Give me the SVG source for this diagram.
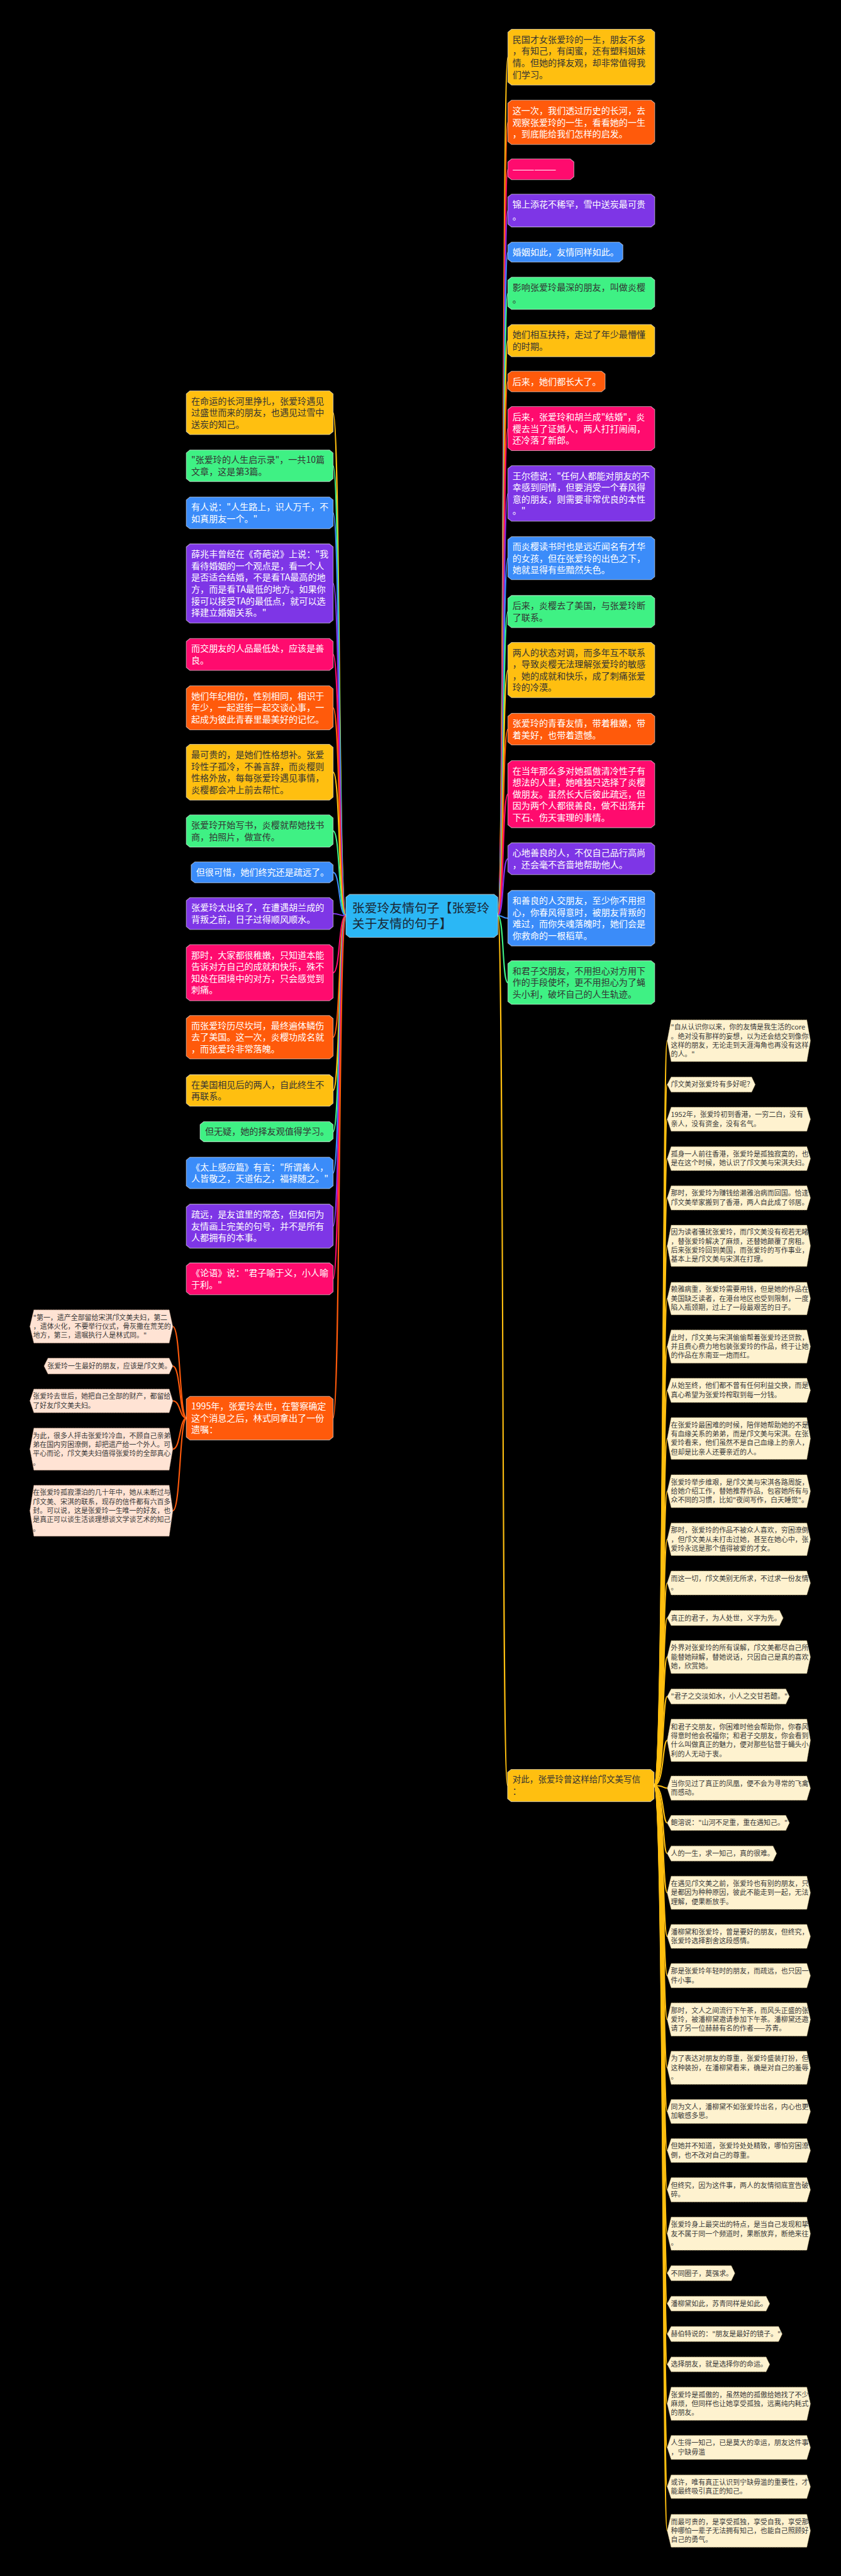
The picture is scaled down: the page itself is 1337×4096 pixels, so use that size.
<svg xmlns="http://www.w3.org/2000/svg" width="1337" height="4096" viewBox="0 0 1337 4096">
<style>
.a{font-family:"Noto Sans CJK SC","Noto Sans",sans-serif;font-size:27px}
.w{fill:#ffffff}
.k{fill:#333333}
.c{font-family:"Noto Sans CJK SC","Noto Sans",sans-serif;font-size:21px;fill:#3a3a3a}
.cn{fill:#fef2cf;stroke:#b9a678;stroke-width:1.5;stroke-dasharray:3 2}
.pn{fill:#ffe3d4;stroke:#c29c86;stroke-width:1.5;stroke-dasharray:3 2}
.ol{stroke:rgba(255,255,255,0.55);stroke-width:2}
.cy{fill:#ffbf10}.co{fill:#ff5a0b}.cp{fill:#ff0b6e}.cu{fill:#7e36e6}.cb{fill:#3b8cf9}.cg{fill:#3ff184}
.e{fill:none;stroke-width:4}
.ey{stroke:#ffbf10}.eo{stroke:#ff5a0b}.ep{stroke:#ff0b6e}.eu{stroke:#7e36e6}.eb{stroke:#3b8cf9}.eg{stroke:#3ff184}
</style>
<rect width="1337" height="4096" fill="#000"/>
<g transform="scale(0.5222656)">
<g id="connectors">
<path class="e ey" d="M1515 2788C1535 2788 1528 174 1546 174"/>
<path class="e eo" d="M1515 2788C1535 2788 1528 372.5 1546 372.5"/>
<path class="e ep" d="M1515 2788C1535 2788 1528 515.5 1546 515.5"/>
<path class="e eu" d="M1515 2788C1535 2788 1528 641 1546 641"/>
<path class="e eb" d="M1515 2788C1535 2788 1528 767.5 1546 767.5"/>
<path class="e eg" d="M1515 2788C1535 2788 1528 893 1546 893"/>
<path class="e ey" d="M1515 2788C1535 2788 1528 1037 1546 1037"/>
<path class="e eo" d="M1515 2788C1535 2788 1528 1161.5 1546 1161.5"/>
<path class="e ep" d="M1515 2788C1535 2788 1528 1305 1546 1305"/>
<path class="e eu" d="M1515 2788C1535 2788 1528 1502.5 1546 1502.5"/>
<path class="e eb" d="M1515 2788C1535 2788 1528 1699.5 1546 1699.5"/>
<path class="e eg" d="M1515 2788C1535 2788 1528 1862 1546 1862"/>
<path class="e ey" d="M1515 2788C1535 2788 1528 2040 1546 2040"/>
<path class="e eo" d="M1515 2788C1535 2788 1528 2220 1546 2220"/>
<path class="e ep" d="M1515 2788C1535 2788 1528 2418 1546 2418"/>
<path class="e eu" d="M1515 2788C1535 2788 1528 2614.5 1546 2614.5"/>
<path class="e eb" d="M1515 2788C1535 2788 1528 2795.5 1546 2795.5"/>
<path class="e eg" d="M1515 2788C1535 2788 1528 2991.5 1546 2991.5"/>
<path class="e ey" d="M1515 2788C1535 2788 1526 5436 1545 5436"/>
<path class="e ey" d="M1053 2788C1030 2788 1036 1256.5 1014 1256.5"/>
<path class="e eg" d="M1053 2788C1030 2788 1036 1418 1014 1418"/>
<path class="e eb" d="M1053 2788C1030 2788 1036 1561.5 1014 1561.5"/>
<path class="e eu" d="M1053 2788C1030 2788 1036 1776.5 1014 1776.5"/>
<path class="e ep" d="M1053 2788C1030 2788 1036 1992.5 1014 1992.5"/>
<path class="e eo" d="M1053 2788C1030 2788 1036 2155 1014 2155"/>
<path class="e ey" d="M1053 2788C1030 2788 1036 2351 1014 2351"/>
<path class="e eg" d="M1053 2788C1030 2788 1036 2530 1014 2530"/>
<path class="e eb" d="M1053 2788C1030 2788 1036 2656 1014 2656"/>
<path class="e eu" d="M1053 2788C1030 2788 1036 2781.5 1014 2781.5"/>
<path class="e ep" d="M1053 2788C1030 2788 1036 2961.5 1014 2961.5"/>
<path class="e eo" d="M1053 2788C1030 2788 1036 3158 1014 3158"/>
<path class="e ey" d="M1053 2788C1030 2788 1036 3320 1014 3320"/>
<path class="e eg" d="M1053 2788C1030 2788 1036 3445.5 1014 3445.5"/>
<path class="e eb" d="M1053 2788C1030 2788 1036 3571 1014 3571"/>
<path class="e eu" d="M1053 2788C1030 2788 1036 3733 1014 3733"/>
<path class="e ep" d="M1053 2788C1030 2788 1036 3893.5 1014 3893.5"/>
<path class="e eo" d="M1053 2788C1030 2788 1036 4317.5 1014 4317.5"/>
<path class="e eo" d="M568 4317.5C546 4317.5 550 4038.5 526 4038.5"/>
<path class="e eo" d="M568 4317.5C546 4317.5 550 4159 526 4159"/>
<path class="e eo" d="M568 4317.5C546 4317.5 550 4265 526 4265"/>
<path class="e eo" d="M568 4317.5C546 4317.5 550 4412 526 4412"/>
<path class="e eo" d="M568 4317.5C546 4317.5 550 4599.5 526 4599.5"/>
<g class="e ey">
<path d="M1991 5436C2022 5436 2016 3168.5 2031 3168.5"/>
<path d="M1991 5436C2022 5436 2016 3302 2031 3302"/>
<path d="M1991 5436C2022 5436 2016 3407.5 2031 3407.5"/>
<path d="M1991 5436C2022 5436 2016 3527.5 2031 3527.5"/>
<path d="M1991 5436C2022 5436 2016 3647 2031 3647"/>
<path d="M1991 5436C2022 5436 2016 3793 2031 3793"/>
<path d="M1991 5436C2022 5436 2016 3953.5 2031 3953.5"/>
<path d="M1991 5436C2022 5436 2016 4099.5 2031 4099.5"/>
<path d="M1991 5436C2022 5436 2016 4233 2031 4233"/>
<path d="M1991 5436C2022 5436 2016 4379.5 2031 4379.5"/>
<path d="M1991 5436C2022 5436 2016 4540 2031 4540"/>
<path d="M1991 5436C2022 5436 2016 4686.5 2031 4686.5"/>
<path d="M1991 5436C2022 5436 2016 4819.5 2031 4819.5"/>
<path d="M1991 5436C2022 5436 2016 4926 2031 4926"/>
<path d="M1991 5436C2022 5436 2016 5045 2031 5045"/>
<path d="M1991 5436C2022 5436 2016 5165 2031 5165"/>
<path d="M1991 5436C2022 5436 2016 5298.5 2031 5298.5"/>
<path d="M1991 5436C2022 5436 2016 5444 2031 5444"/>
<path d="M1991 5436C2022 5436 2016 5550 2031 5550"/>
<path d="M1991 5436C2022 5436 2016 5643 2031 5643"/>
<path d="M1991 5436C2022 5436 2016 5762.5 2031 5762.5"/>
<path d="M1991 5436C2022 5436 2016 5895.5 2031 5895.5"/>
<path d="M1991 5436C2022 5436 2016 6015 2031 6015"/>
<path d="M1991 5436C2022 5436 2016 6148.5 2031 6148.5"/>
<path d="M1991 5436C2022 5436 2016 6295.5 2031 6295.5"/>
<path d="M1991 5436C2022 5436 2016 6428.5 2031 6428.5"/>
<path d="M1991 5436C2022 5436 2016 6547.5 2031 6547.5"/>
<path d="M1991 5436C2022 5436 2016 6667 2031 6667"/>
<path d="M1991 5436C2022 5436 2016 6800.5 2031 6800.5"/>
<path d="M1991 5436C2022 5436 2016 6921 2031 6921"/>
<path d="M1991 5436C2022 5436 2016 7013.5 2031 7013.5"/>
<path d="M1991 5436C2022 5436 2016 7106 2031 7106"/>
<path d="M1991 5436C2022 5436 2016 7198.5 2031 7198.5"/>
<path d="M1991 5436C2022 5436 2016 7318.5 2031 7318.5"/>
<path d="M1991 5436C2022 5436 2016 7451.5 2031 7451.5"/>
<path d="M1991 5436C2022 5436 2016 7571 2031 7571"/>
<path d="M1991 5436C2022 5436 2016 7705 2031 7705"/>
</g>
</g>

<g id="root">
<path fill="#2bb7f5" class="ol" d="M1064 2723h440l11 9v113l-11 9h-440l-11-9v-113z"/>
<text class="a" style="font-size:38px" fill="#1a2533" x="1072" y="2779"><tspan x="1072">张爱玲友情句子【张爱玲</tspan><tspan x="1072" dy="47">关于友情的句子】</tspan></text>
</g>

<g id="r1"><path class="cy ol" d="M1557 89h425l11 9v152l-11 9h-425l-11-9v-152z"/><text class="a k" y="130"><tspan x="1560">民国才女张爱玲的一生，朋友不多</tspan><tspan x="1560" dy="35.5">，有知己，有闺蜜，还有塑料姐妹</tspan><tspan x="1560" dy="35.5">情。但她的择友观，却非常值得我</tspan><tspan x="1560" dy="35.5">们学习。</tspan></text></g>
<g id="r2"><path class="co ol" d="M1557 305h425l11 9v117l-11 9h-425l-11-9v-117z"/><text class="a w" y="346.5"><tspan x="1560">这一次，我们透过历史的长河，去</tspan><tspan x="1560" dy="35.5">观察张爱玲的一生，看看她的一生</tspan><tspan x="1560" dy="35.5">，到底能给我们怎样的启发。</tspan></text></g>
<g id="r3"><path class="cp ol" d="M1557 484h179l11 9v45l-11 9h-179l-11-9v-45z"/><text class="a w" x="1560" y="525">——————</text></g>
<g id="r4"><path class="cu ol" d="M1557 591h425l11 9v82l-11 9h-425l-11-9v-82z"/><text class="a w" y="632.75"><tspan x="1560">锦上添花不稀罕，雪中送炭最可贵</tspan><tspan x="1560" dy="35.5">。</tspan></text></g>
<g id="r5"><path class="cb ol" d="M1557 737h328l11 9v43l-11 9h-328l-11-9v-43z"/><text class="a w" x="1560" y="777">婚姻如此，友情同样如此。</text></g>
<g id="r6"><path class="cg ol" d="M1557 844h425l11 9v80l-11 9h-425l-11-9v-80z"/><text class="a k" y="884.75"><tspan x="1560">影响张爱玲最深的朋友，叫做炎樱</tspan><tspan x="1560" dy="35.5">。</tspan></text></g>
<g id="r7"><path class="cy ol" d="M1557 988h425l11 9v80l-11 9h-425l-11-9v-80z"/><text class="a k" y="1028.75"><tspan x="1560">她们相互扶持，走过了年少最懵懂</tspan><tspan x="1560" dy="35.5">的时期。</tspan></text></g>
<g id="r8"><path class="co ol" d="M1557 1130h274l11 9v45l-11 9h-274l-11-9v-45z"/><text class="a w" x="1560" y="1171">后来，她们都长大了。</text></g>
<g id="r9"><path class="cp ol" d="M1557 1238h425l11 9v116l-11 9h-425l-11-9v-116z"/><text class="a w" y="1279"><tspan x="1560">后来，张爱玲和胡兰成"结婚"，炎</tspan><tspan x="1560" dy="35.5">樱去当了证婚人，两人打打闹闹，</tspan><tspan x="1560" dy="35.5">还冷落了新郎。</tspan></text></g>
<g id="r10"><path class="cu ol" d="M1557 1418h425l11 9v151l-11 9h-425l-11-9v-151z"/><text class="a w" y="1458.75"><tspan x="1560">王尔德说："任何人都能对朋友的不</tspan><tspan x="1560" dy="35.5">幸感到同情，但要消受一个春风得</tspan><tspan x="1560" dy="35.5">意的朋友，则需要非常优良的本性</tspan><tspan x="1560" dy="35.5">。"</tspan></text></g>
<g id="r11"><path class="cb ol" d="M1557 1634h425l11 9v113l-11 9h-425l-11-9v-113z"/><text class="a w" y="1673.5"><tspan x="1560">而炎樱读书时也是远近闻名有才华</tspan><tspan x="1560" dy="35.5">的女孩，但在张爱玲的出色之下，</tspan><tspan x="1560" dy="35.5">她就显得有些黯然失色。</tspan></text></g>
<g id="r12"><path class="cg ol" d="M1557 1813h425l11 9v80l-11 9h-425l-11-9v-80z"/><text class="a k" y="1853.75"><tspan x="1560">后来，炎樱去了美国，与张爱玲断</tspan><tspan x="1560" dy="35.5">了联系。</tspan></text></g>
<g id="r13"><path class="cy ol" d="M1557 1956h425l11 9v150l-11 9h-425l-11-9v-150z"/><text class="a k" y="1996.25"><tspan x="1560">两人的状态对调，而多年互不联系</tspan><tspan x="1560" dy="35.5">，导致炎樱无法理解张爱玲的敏感</tspan><tspan x="1560" dy="35.5">，她的成就和快乐，成了刺痛张爱</tspan><tspan x="1560" dy="35.5">玲的冷漠。</tspan></text></g>
<g id="r14"><path class="co ol" d="M1557 2172h425l11 9v78l-11 9h-425l-11-9v-78z"/><text class="a w" y="2211.75"><tspan x="1560">张爱玲的青春友情，带着稚嫩，带</tspan><tspan x="1560" dy="35.5">着美好，也带着遗憾。</tspan></text></g>
<g id="r15"><path class="cp ol" d="M1557 2316h425l11 9v186l-11 9h-425l-11-9v-186z"/><text class="a w" y="2356.5"><tspan x="1560">在当年那么多对她孤傲清冷性子有</tspan><tspan x="1560" dy="35.5">想法的人里，她唯独只选择了炎樱</tspan><tspan x="1560" dy="35.5">做朋友。虽然长大后彼此疏远，但</tspan><tspan x="1560" dy="35.5">因为两个人都很善良，做不出落井</tspan><tspan x="1560" dy="35.5">下石、伤天害理的事情。</tspan></text></g>
<g id="r16"><path class="cu ol" d="M1557 2566h425l11 9v79l-11 9h-425l-11-9v-79z"/><text class="a w" y="2606.25"><tspan x="1560">心地善良的人，不仅自己品行高尚</tspan><tspan x="1560" dy="35.5">，还会毫不吝啬地帮助他人。</tspan></text></g>
<g id="r17"><path class="cb ol" d="M1557 2711h425l11 9v151l-11 9h-425l-11-9v-151z"/><text class="a w" y="2751.75"><tspan x="1560">和善良的人交朋友，至少你不用担</tspan><tspan x="1560" dy="35.5">心，你春风得意时，被朋友背叛的</tspan><tspan x="1560" dy="35.5">难过，而你失魂落魄时，她们会是</tspan><tspan x="1560" dy="35.5">你救命的一根稻草。</tspan></text></g>
<g id="r18"><path class="cg ol" d="M1557 2925h425l11 9v115l-11 9h-425l-11-9v-115z"/><text class="a k" y="2965.5"><tspan x="1560">和君子交朋友，不用担心对方用下</tspan><tspan x="1560" dy="35.5">作的手段使坏，更不用担心为了蝇</tspan><tspan x="1560" dy="35.5">头小利，破坏自己的人生轨迹。</tspan></text></g>

<g id="l1"><path class="cy ol" d="M578 1190h425l11 9v115l-11 9h-425l-11-9v-115z"/><text class="a k" y="1230.5"><tspan x="582">在命运的长河里挣扎，张爱玲遇见</tspan><tspan x="582" dy="35.5">过盛世而来的朋友，也遇见过雪中</tspan><tspan x="582" dy="35.5">送炭的知己。</tspan></text></g>
<g id="l2"><path class="cg ol" d="M578 1370h425l11 9v78l-11 9h-425l-11-9v-78z"/><text class="a k" y="1409.75"><tspan x="582">"张爱玲的人生启示录"，一共10篇</tspan><tspan x="582" dy="35.5">文章，这是第3篇。</tspan></text></g>
<g id="l3"><path class="cb ol" d="M578 1513h425l11 9v79l-11 9h-425l-11-9v-79z"/><text class="a w" y="1553.25"><tspan x="582">有人说："人生路上，识人万千，不</tspan><tspan x="582" dy="35.5">如真朋友一个。"</tspan></text></g>
<g id="l4"><path class="cu ol" d="M578 1656h425l11 9v223l-11 9h-425l-11-9v-223z"/><text class="a w" y="1697.25"><tspan x="582">薛兆丰曾经在《奇葩说》上说："我</tspan><tspan x="582" dy="35.5">看待婚姻的一个观点是，看一个人</tspan><tspan x="582" dy="35.5">是否适合结婚，不是看TA最高的地</tspan><tspan x="582" dy="35.5">方，而是看TA最低的地方。如果你</tspan><tspan x="582" dy="35.5">接可以接受TA的最低点，就可以选</tspan><tspan x="582" dy="35.5">择建立婚姻关系。"</tspan></text></g>
<g id="l5"><path class="cp ol" d="M578 1944h425l11 9v79l-11 9h-425l-11-9v-79z"/><text class="a w" y="1984.25"><tspan x="582">而交朋友的人品最低处，应该是善</tspan><tspan x="582" dy="35.5">良。</tspan></text></g>
<g id="l6"><path class="co ol" d="M578 2088h425l11 9v116l-11 9h-425l-11-9v-116z"/><text class="a w" y="2129"><tspan x="582">她们年纪相仿，性别相同，相识于</tspan><tspan x="582" dy="35.5">年少，一起逛街一起交谈心事，一</tspan><tspan x="582" dy="35.5">起成为彼此青春里最美好的记忆。</tspan></text></g>
<g id="l7"><path class="cy ol" d="M578 2266h425l11 9v152l-11 9h-425l-11-9v-152z"/><text class="a k" y="2307.25"><tspan x="582">最可贵的，是她们性格想补。张爱</tspan><tspan x="582" dy="35.5">玲性子孤冷，不善言辞，而炎樱则</tspan><tspan x="582" dy="35.5">性格外放，每每张爱玲遇见事情，</tspan><tspan x="582" dy="35.5">炎樱都会冲上前去帮忙。</tspan></text></g>
<g id="l8"><path class="cg ol" d="M578 2481h425l11 9v80l-11 9h-425l-11-9v-80z"/><text class="a k" y="2521.75"><tspan x="582">张爱玲开始写书，炎樱就帮她找书</tspan><tspan x="582" dy="35.5">商，拍照片，做宣传。</tspan></text></g>
<g id="l9"><path class="cb ol" d="M593 2624h410l11 9v46l-11 9h-410l-11-9v-46z"/><text class="a w" x="597" y="2665.5">但很可惜，她们终究还是疏远了。</text></g>
<g id="l10"><path class="cu ol" d="M578 2733h425l11 9v79l-11 9h-425l-11-9v-79z"/><text class="a w" y="2773.25"><tspan x="582">张爱玲太出名了，在遭遇胡兰成的</tspan><tspan x="582" dy="35.5">背叛之前，日子过得顺风顺水。</tspan></text></g>
<g id="l11"><path class="cp ol" d="M578 2876h425l11 9v153l-11 9h-425l-11-9v-153z"/><text class="a w" y="2917.75"><tspan x="582">那时，大家都很稚嫩，只知道本能</tspan><tspan x="582" dy="35.5">告诉对方自己的成就和快乐，殊不</tspan><tspan x="582" dy="35.5">知处在困境中的对方，只会感觉到</tspan><tspan x="582" dy="35.5">刺痛。</tspan></text></g>
<g id="l12"><path class="co ol" d="M578 3092h425l11 9v114l-11 9h-425l-11-9v-114z"/><text class="a w" y="3132"><tspan x="582">而张爱玲历尽坎坷，最终遍体鳞伤</tspan><tspan x="582" dy="35.5">去了美国。这一次，炎樱功成名就</tspan><tspan x="582" dy="35.5">，而张爱玲非常落魄。</tspan></text></g>
<g id="l13"><path class="cy ol" d="M578 3272h425l11 9v78l-11 9h-425l-11-9v-78z"/><text class="a k" y="3311.75"><tspan x="582">在美国相见后的两人，自此终生不</tspan><tspan x="582" dy="35.5">再联系。</tspan></text></g>
<g id="l14"><path class="cg ol" d="M620 3415h383l11 9v43l-11 9h-383l-11-9v-43z"/><text class="a k" x="624" y="3455">但无疑，她的择友观值得学习。</text></g>
<g id="l15"><path class="cb ol" d="M578 3523h425l11 9v78l-11 9h-425l-11-9v-78z"/><text class="a w" y="3562.75"><tspan x="582">《太上感应篇》有言："所谓善人，</tspan><tspan x="582" dy="35.5">人皆敬之，天道佑之，福禄随之。"</tspan></text></g>
<g id="l16"><path class="cu ol" d="M578 3666h425l11 9v116l-11 9h-425l-11-9v-116z"/><text class="a w" y="3707"><tspan x="582">疏远，是友谊里的常态，但如何为</tspan><tspan x="582" dy="35.5">友情画上完美的句号，并不是所有</tspan><tspan x="582" dy="35.5">人都拥有的本事。</tspan></text></g>
<g id="l17"><path class="cp ol" d="M578 3845h425l11 9v79l-11 9h-425l-11-9v-79z"/><text class="a w" y="3885.25"><tspan x="582">《论语》说："君子喻于义，小人喻</tspan><tspan x="582" dy="35.5">于利。"</tspan></text></g>
<g id="l18"><path class="co ol" d="M578 4251h425l11 9v115l-11 9h-425l-11-9v-115z"/><text class="a w" y="4291.5"><tspan x="582">1995年，张爱玲去世，在警察确定</tspan><tspan x="582" dy="35.5">这个消息之后，林式同拿出了一份</tspan><tspan x="582" dy="35.5">遗嘱：</tspan></text></g>

<g id="p1"><path class="pn" d="M91 4038.5L103 3988H515L526 4038.5L515 4089H103Z"/><text class="c" y="4018.5"><tspan x="101">"第一，遗产全部留给宋淇邝文美夫妇，第二</tspan><tspan x="101" dy="27.5">，遗体火化，不要举行仪式，骨灰撒在荒芜的</tspan><tspan x="101" dy="27.5">地方，第三，遗嘱执行人是林式同。"</tspan></text></g>
<g id="p2"><path class="pn" d="M134 4159L146 4135H515L526 4159L515 4183H146Z"/><text class="c" x="144" y="4166.5">张爱玲一生最好的朋友，应该是邝文美。</text></g>
<g id="p3"><path class="pn" d="M91 4265L103 4229H515L526 4265L515 4301H103Z"/><text class="c" y="4258.75"><tspan x="100">张爱玲去世后，她把自己全部的财产，都留给</tspan><tspan x="100" dy="27.5">了好友邝文美夫妇。</tspan></text></g>
<g id="p4"><path class="pn" d="M91 4412L103 4348H515L526 4412L515 4476H103Z"/><text class="c" y="4378.25"><tspan x="100">为此，很多人抨击张爱玲冷血，不顾自己亲弟</tspan><tspan x="100" dy="27.5">弟在国内穷困潦倒，却把遗产给一个外人。可</tspan><tspan x="100" dy="27.5">平心而论，邝文美夫妇值得张爱玲的全部真心</tspan><tspan x="100" dy="27.5">。</tspan></text></g>
<g id="p5"><path class="pn" d="M91 4599.5L103 4522H515L526 4599.5L515 4677H103Z"/><text class="c" y="4552"><tspan x="100">在张爱玲孤寂漂泊的几十年中，她从未断过与</tspan><tspan x="100" dy="27.5">邝文美、宋淇的联系，现存的信件都有六百多</tspan><tspan x="100" dy="27.5">封。可以说，这是张爱玲一生唯一的好友，也</tspan><tspan x="100" dy="27.5">是真正可以谈生活谈理想谈文学谈艺术的知己</tspan><tspan x="100" dy="27.5">。</tspan></text></g>

<g id="yb"><path class="cy ol" d="M1556 5387h424l11 9v80l-11 9h-424l-11-9v-80z"/><text class="a k" style="font-size:26px" y="5427"><tspan x="1560">对此，张爱玲曾这样给邝文美写信</tspan><tspan x="1560" dy="35">：</tspan></text></g>

<g id="c1"><path class="cn" d="M2031 3168.5L2043 3105H2456L2467 3168.5L2456 3232H2043Z"/><text class="c" y="3134.75"><tspan x="2042">"自从认识你以来，你的友情是我生活的core</tspan><tspan x="2042" dy="27.5">。绝对没有那样的妄想，以为还会结交到像你</tspan><tspan x="2042" dy="27.5">这样的朋友，无论走到天涯海角也再没有这样</tspan><tspan x="2042" dy="27.5">的人。"</tspan></text></g>
<g id="c2"><path class="cn" d="M2031 3302L2043 3279H2288L2299 3302L2288 3325H2043Z"/><text class="c" x="2042" y="3309.5">邝文美对张爱玲有多好呢？</text></g>
<g id="c3"><path class="cn" d="M2031 3407.5L2043 3371H2456L2467 3407.5L2456 3444H2043Z"/><text class="c" y="3401.25"><tspan x="2042">1952年，张爱玲初到香港，一穷二白，没有</tspan><tspan x="2042" dy="27.5">亲人，没有资金，没有名气。</tspan></text></g>
<g id="c4"><path class="cn" d="M2031 3527.5L2043 3491H2456L2467 3527.5L2456 3564H2043Z"/><text class="c" y="3521.25"><tspan x="2042">孤身一人前往香港，张爱玲是孤独寂寞的，也</tspan><tspan x="2042" dy="27.5">是在这个时候，她认识了邝文美与宋淇夫妇。</tspan></text></g>
<g id="c5"><path class="cn" d="M2031 3647L2043 3610H2456L2467 3647L2456 3684H2043Z"/><text class="c" y="3640.75"><tspan x="2042">那时，张爱玲为赚钱给濑雅治病而回国。恰逢</tspan><tspan x="2042" dy="27.5">邝文美举家搬到了香港，两人自此成了邻居。</tspan></text></g>
<g id="c6"><path class="cn" d="M2031 3793L2043 3730H2456L2467 3793L2456 3856H2043Z"/><text class="c" y="3759.25"><tspan x="2042">因为读者骚扰张爱玲，而邝文美没有视若无睹</tspan><tspan x="2042" dy="27.5">，替张爱玲解决了麻烦，还替她颠覆了房租。</tspan><tspan x="2042" dy="27.5">后来张爱玲回到美国，而张爱玲的写作事业，</tspan><tspan x="2042" dy="27.5">基本上是邝文美与宋淇在打理。</tspan></text></g>
<g id="c7"><path class="cn" d="M2031 3953.5L2043 3904H2456L2467 3953.5L2456 4003H2043Z"/><text class="c" y="3933.5"><tspan x="2042">赖雅病重，张爱玲需要用钱，但是她的作品在</tspan><tspan x="2042" dy="27.5">美国缺乏读者，在港台地区也受到限制，一度</tspan><tspan x="2042" dy="27.5">陷入瓶颈期，过上了一段最艰苦的日子。</tspan></text></g>
<g id="c8"><path class="cn" d="M2031 4099.5L2043 4049H2456L2467 4099.5L2456 4150H2043Z"/><text class="c" y="4079.5"><tspan x="2042">此时，邝文美与宋淇偷偷帮着张爱玲还贷款，</tspan><tspan x="2042" dy="27.5">并且费心费力地包装张爱玲的作品，终于让她</tspan><tspan x="2042" dy="27.5">的作品在东南亚一炮而红。</tspan></text></g>
<g id="c9"><path class="cn" d="M2031 4233L2043 4196H2456L2467 4233L2456 4270H2043Z"/><text class="c" y="4226.75"><tspan x="2042">从始至终，他们都不曾有任何利益交换，而是</tspan><tspan x="2042" dy="27.5">真心希望为张爱玲榨取到每一分钱。</tspan></text></g>
<g id="c10"><path class="cn" d="M2031 4379.5L2043 4316H2456L2467 4379.5L2456 4443H2043Z"/><text class="c" y="4345.75"><tspan x="2042">在张爱玲最困难的时候，陪伴她帮助她的不是</tspan><tspan x="2042" dy="27.5">有血缘关系的弟弟，而是邝文美与宋淇。在张</tspan><tspan x="2042" dy="27.5">爱玲看来，他们虽然不是自己血缘上的亲人，</tspan><tspan x="2042" dy="27.5">但却是比亲人还要亲近的人。</tspan></text></g>
<g id="c11"><path class="cn" d="M2031 4540L2043 4490H2456L2467 4540L2456 4590H2043Z"/><text class="c" y="4520"><tspan x="2042">张爱玲举步维艰，是邝文美与宋淇各路周旋，</tspan><tspan x="2042" dy="27.5">给她介绍工作，替她推荐作品，包容她所有与</tspan><tspan x="2042" dy="27.5">众不同的习惯，比如"夜间写作，白天睡觉"。</tspan></text></g>
<g id="c12"><path class="cn" d="M2031 4686.5L2043 4637H2456L2467 4686.5L2456 4736H2043Z"/><text class="c" y="4666.5"><tspan x="2042">那时，张爱玲的作品不被众人喜欢，穷困潦倒</tspan><tspan x="2042" dy="27.5">，但邝文美从未打击过她，甚至在她心中，张</tspan><tspan x="2042" dy="27.5">爱玲永远是那个值得被爱的才女。</tspan></text></g>
<g id="c13"><path class="cn" d="M2031 4819.5L2043 4783H2456L2467 4819.5L2456 4856H2043Z"/><text class="c" y="4813.25"><tspan x="2042">而这一切，邝文美别无所求，不过求一份友情</tspan><tspan x="2042" dy="27.5">。</tspan></text></g>
<g id="c14"><path class="cn" d="M2031 4926L2043 4903H2373L2384 4926L2373 4949H2043Z"/><text class="c" x="2042" y="4933.5">真正的君子，为人处世，义字为先。</text></g>
<g id="c15"><path class="cn" d="M2031 5045L2043 4995H2456L2467 5045L2456 5095H2043Z"/><text class="c" y="5025"><tspan x="2042">外界对张爱玲的所有误解，邝文美都尽自己所</tspan><tspan x="2042" dy="27.5">能替她辩解，替她说话，只因自己是真的喜欢</tspan><tspan x="2042" dy="27.5">她，欣赏她。</tspan></text></g>
<g id="c16"><path class="cn" d="M2031 5165L2043 5142H2392L2403 5165L2392 5188H2043Z"/><text class="c" x="2042" y="5172.5">"君子之交淡如水，小人之交甘若醴。"</text></g>
<g id="c17"><path class="cn" d="M2031 5298.5L2043 5234H2456L2467 5298.5L2456 5363H2043Z"/><text class="c" y="5264.75"><tspan x="2042">和君子交朋友，你困难时他会帮助你，你春风</tspan><tspan x="2042" dy="27.5">得意时他会祝福你；和君子交朋友，你会看到</tspan><tspan x="2042" dy="27.5">什么叫做真正的魅力，便对那些钻营于蝇头小</tspan><tspan x="2042" dy="27.5">利的人无动于衷。</tspan></text></g>
<g id="c18"><path class="cn" d="M2031 5444L2043 5407H2456L2467 5444L2456 5481H2043Z"/><text class="c" y="5437.75"><tspan x="2042">当你见过了真正的凤凰，便不会为寻常的飞禽</tspan><tspan x="2042" dy="27.5">而感动。</tspan></text></g>
<g id="c19"><path class="cn" d="M2031 5550L2043 5527H2392L2403 5550L2392 5573H2043Z"/><text class="c" x="2042" y="5557.5">鲍溶说："山河不足重，重在遇知己。"</text></g>
<g id="c20"><path class="cn" d="M2031 5643L2043 5620H2353L2364 5643L2353 5666H2043Z"/><text class="c" x="2042" y="5650.5">人的一生，求一知己，真的很难。</text></g>
<g id="c21"><path class="cn" d="M2031 5762.5L2043 5712H2456L2467 5762.5L2456 5813H2043Z"/><text class="c" y="5742.5"><tspan x="2042">在遇见邝文美之前，张爱玲也有别的朋友，只</tspan><tspan x="2042" dy="27.5">是都因为种种原因，彼此不能走到一起，无法</tspan><tspan x="2042" dy="27.5">理解，便果断放手。</tspan></text></g>
<g id="c22"><path class="cn" d="M2031 5895.5L2043 5859H2456L2467 5895.5L2456 5932H2043Z"/><text class="c" y="5889.25"><tspan x="2042">潘柳黛和张爱玲，曾是要好的朋友，但终究，</tspan><tspan x="2042" dy="27.5">张爱玲选择割舍这段感情。</tspan></text></g>
<g id="c23"><path class="cn" d="M2031 6015L2043 5978H2456L2467 6015L2456 6052H2043Z"/><text class="c" y="6008.75"><tspan x="2042">那是张爱玲年轻时的朋友，而疏远，也只因一</tspan><tspan x="2042" dy="27.5">件小事。</tspan></text></g>
<g id="c24"><path class="cn" d="M2031 6148.5L2043 6098H2456L2467 6148.5L2456 6199H2043Z"/><text class="c" y="6128.5"><tspan x="2042">那时，文人之间流行下午茶，而风头正盛的张</tspan><tspan x="2042" dy="27.5">爱玲，被潘柳黛邀请参加下午茶。潘柳黛还邀</tspan><tspan x="2042" dy="27.5">请了另一位赫赫有名的作者——苏青。</tspan></text></g>
<g id="c25"><path class="cn" d="M2031 6295.5L2043 6245H2456L2467 6295.5L2456 6346H2043Z"/><text class="c" y="6275.5"><tspan x="2042">为了表达对朋友的尊重，张爱玲盛装打扮，但</tspan><tspan x="2042" dy="27.5">这种装扮，在潘柳黛看来，确是对自己的羞辱</tspan><tspan x="2042" dy="27.5">。</tspan></text></g>
<g id="c26"><path class="cn" d="M2031 6428.5L2043 6392H2456L2467 6428.5L2456 6465H2043Z"/><text class="c" y="6422.25"><tspan x="2042">同为文人，潘柳黛不如张爱玲出名，内心也更</tspan><tspan x="2042" dy="27.5">加敏感多思。</tspan></text></g>
<g id="c27"><path class="cn" d="M2031 6547.5L2043 6511H2456L2467 6547.5L2456 6584H2043Z"/><text class="c" y="6541.25"><tspan x="2042">但她并不知道，张爱玲处处精致，哪怕穷困潦</tspan><tspan x="2042" dy="27.5">倒，也不改对自己的尊重。</tspan></text></g>
<g id="c28"><path class="cn" d="M2031 6667L2043 6630H2456L2467 6667L2456 6704H2043Z"/><text class="c" y="6660.75"><tspan x="2042">但终究，因为这件事，两人的友情彻底宣告破</tspan><tspan x="2042" dy="27.5">碎。</tspan></text></g>
<g id="c29"><path class="cn" d="M2031 6800.5L2043 6750H2456L2467 6800.5L2456 6851H2043Z"/><text class="c" y="6780.5"><tspan x="2042">张爱玲身上最突出的特点，是当自己发现和挚</tspan><tspan x="2042" dy="27.5">友不属于同一个频道时，果断放弃，断绝来往</tspan><tspan x="2042" dy="27.5">。</tspan></text></g>
<g id="c30"><path class="cn" d="M2031 6921L2043 6898H2226L2237 6921L2226 6944H2043Z"/><text class="c" x="2042" y="6928.5">不同圈子，莫强求。</text></g>
<g id="c31"><path class="cn" d="M2031 7013.5L2043 6991H2332L2343 7013.5L2332 7036H2043Z"/><text class="c" x="2042" y="7021">潘柳黛如此，苏青同样是如此。</text></g>
<g id="c32"><path class="cn" d="M2031 7106L2043 7083H2370L2381 7106L2370 7129H2043Z"/><text class="c" x="2042" y="7113.5">赫伯特说的："朋友是最好的镜子。"</text></g>
<g id="c33"><path class="cn" d="M2031 7198.5L2043 7176H2332L2343 7198.5L2332 7221H2043Z"/><text class="c" x="2042" y="7206">选择朋友，就是选择你的命运。</text></g>
<g id="c34"><path class="cn" d="M2031 7318.5L2043 7268H2456L2467 7318.5L2456 7369H2043Z"/><text class="c" y="7298.5"><tspan x="2042">张爱玲是孤傲的，虽然她的孤傲给她找了不少</tspan><tspan x="2042" dy="27.5">麻烦，但同样也让她享受孤独，远离纯内耗式</tspan><tspan x="2042" dy="27.5">的朋友。</tspan></text></g>
<g id="c35"><path class="cn" d="M2031 7451.5L2043 7415H2456L2467 7451.5L2456 7488H2043Z"/><text class="c" y="7445.25"><tspan x="2042">人生得一知己，已是莫大的幸运，朋友这件事</tspan><tspan x="2042" dy="27.5">，宁缺毋滥</tspan></text></g>
<g id="c36"><path class="cn" d="M2031 7571L2043 7535H2456L2467 7571L2456 7607H2043Z"/><text class="c" y="7564.75"><tspan x="2042">或许，唯有真正认识到宁缺毋滥的重要性，才</tspan><tspan x="2042" dy="27.5">能最终吸引真正的知己。</tspan></text></g>
<g id="c37"><path class="cn" d="M2031 7705L2043 7655H2456L2467 7705L2456 7755H2043Z"/><text class="c" y="7685"><tspan x="2042">而最可贵的，是享受孤独，享受自我，享受那</tspan><tspan x="2042" dy="27.5">种哪怕一辈子无法拥有知己，也能自己照顾好</tspan><tspan x="2042" dy="27.5">自己的勇气。</tspan></text></g>
</g>
</svg>
